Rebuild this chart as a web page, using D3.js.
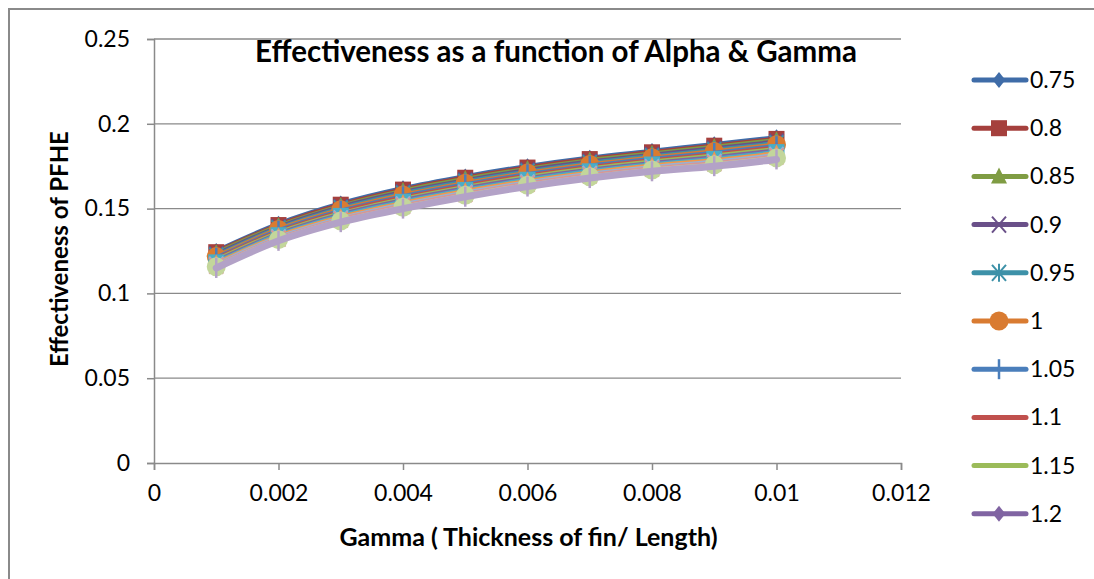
<!DOCTYPE html>
<html>
<head>
<meta charset="utf-8">
<script src="https://cdn.jsdelivr.net/npm/d3@7"></script>
<style>
  body { margin: 0; background: #fff; }
  text { font-family: Lato, "Open Sans", sans-serif; }
</style>
</head>
<body>
<div id="vis"></div>
<script>
const W = 1094, H = 579;

// data
const gammas = [0.001, 0.002, 0.003, 0.004, 0.005, 0.006, 0.007, 0.008, 0.009, 0.01];
const alphas = ["0.75", "0.8", "0.85", "0.9", "0.95", "1", "1.05", "1.1", "1.15", "1.2", "1.25", "1.3", "1.35", "1.4", "1.45", "1.5"];
const eff = [
  [0.1250, 0.1410, 0.1530, 0.1620, 0.1690, 0.1750, 0.1800, 0.1840, 0.1880, 0.1920],
  [0.1243, 0.1403, 0.1523, 0.1612, 0.1682, 0.1742, 0.1792, 0.1832, 0.1871, 0.1911],
  [0.1237, 0.1397, 0.1515, 0.1604, 0.1674, 0.1734, 0.1784, 0.1824, 0.1863, 0.1903],
  [0.1230, 0.1390, 0.1508, 0.1596, 0.1666, 0.1726, 0.1776, 0.1816, 0.1854, 0.1894],
  [0.1223, 0.1383, 0.1501, 0.1588, 0.1658, 0.1718, 0.1768, 0.1808, 0.1845, 0.1885],
  [0.1217, 0.1377, 0.1493, 0.1580, 0.1650, 0.1710, 0.1760, 0.1800, 0.1837, 0.1877],
  [0.1210, 0.1370, 0.1486, 0.1572, 0.1642, 0.1702, 0.1752, 0.1792, 0.1828, 0.1868],
  [0.1203, 0.1363, 0.1479, 0.1564, 0.1634, 0.1694, 0.1744, 0.1784, 0.1819, 0.1859],
  [0.1197, 0.1357, 0.1471, 0.1556, 0.1626, 0.1686, 0.1736, 0.1776, 0.1811, 0.1851],
  [0.1190, 0.1350, 0.1464, 0.1548, 0.1618, 0.1678, 0.1728, 0.1768, 0.1802, 0.1842],
  [0.1183, 0.1343, 0.1457, 0.1540, 0.1610, 0.1670, 0.1720, 0.1760, 0.1793, 0.1833],
  [0.1177, 0.1337, 0.1449, 0.1532, 0.1602, 0.1662, 0.1712, 0.1752, 0.1785, 0.1825],
  [0.1170, 0.1330, 0.1442, 0.1524, 0.1594, 0.1654, 0.1704, 0.1744, 0.1776, 0.1816],
  [0.1163, 0.1323, 0.1435, 0.1516, 0.1586, 0.1646, 0.1696, 0.1736, 0.1767, 0.1807],
  [0.1157, 0.1317, 0.1427, 0.1508, 0.1578, 0.1638, 0.1688, 0.1728, 0.1759, 0.1799],
  [0.1150, 0.1310, 0.1420, 0.1500, 0.1570, 0.1630, 0.1680, 0.1720, 0.1750, 0.1790]
];
const xTicks = [0, 0.002, 0.004, 0.006, 0.008, 0.01, 0.012];
const yTicks = [0, 0.05, 0.1, 0.15, 0.2, 0.25];
const legendShown = 10;

const colors = [
  "#3f6ca8", "#a5403d", "#7f9c43", "#6a5089", "#3d91a8", "#d97b31",
  "#4a7ebb", "#c0504d", "#9bbb59", "#8064a2", "#4bacc6", "#f79646",
  "#95b3d7", "#d99694", "#c3d69b", "#b3a2c7"
];
const markers = ["diamond", "square", "triangle", "x", "star", "circle", "plus", "none", "none"];

const M = { left: 154, right: 901, top: 39, bottom: 463 };

const svg = d3.select("#vis").append("svg")
  .attr("width", W).attr("height", H);

svg.append("rect")
  .attr("x", 9).attr("y", 9).attr("width", W + 20).attr("height", H + 20)
  .attr("fill", "#fff").attr("stroke", "#8a8a8a").attr("stroke-width", 2);

const x = d3.scaleLinear().domain([0, 0.012]).range([M.left, M.right]);
const y = d3.scaleLinear().domain([0, 0.25]).range([M.bottom, M.top]);

// gridlines
svg.append("g").selectAll("line")
  .data(yTicks.filter(d => d > 0))
  .join("line")
  .attr("x1", M.left).attr("x2", M.right)
  .attr("y1", d => y(d)).attr("y2", d => y(d))
  .attr("stroke", "#8a8a8a").attr("stroke-width", 1.3);

// axes
const yAxis = svg.append("g")
  .attr("transform", `translate(${M.left},0)`)
  .call(d3.axisLeft(y).tickValues(yTicks).tickSize(7).tickPadding(17)
    .tickFormat(d => String(d)));
const xAxis = svg.append("g")
  .attr("transform", `translate(0,${M.bottom})`)
  .call(d3.axisBottom(x).tickValues(xTicks).tickSize(7).tickPadding(15)
    .tickFormat(d => String(d)));
[xAxis, yAxis].forEach(a => {
  a.select(".domain").attr("stroke", "#8a8a8a").attr("stroke-width", 1.5);
  a.selectAll(".tick line").attr("stroke", "#8a8a8a").attr("stroke-width", 1.5);
  a.selectAll(".tick text").attr("font-size", 23).attr("fill", "#000")
    .style("font-family", "Lato, sans-serif");
});

// marker drawing
function drawMarker(g, type, color, cx, cy) {
  const s = 8;
  if (type === "diamond") {
    g.append("path")
      .attr("d", `M${cx},${cy - s}L${cx + s * 0.8},${cy}L${cx},${cy + s}L${cx - s * 0.8},${cy}Z`)
      .attr("fill", color);
  } else if (type === "square") {
    g.append("rect").attr("x", cx - 8).attr("y", cy - 8).attr("width", 16).attr("height", 16)
      .attr("fill", color);
  } else if (type === "triangle") {
    g.append("path")
      .attr("d", `M${cx},${cy - 9}L${cx + 8},${cy + 7}L${cx - 8},${cy + 7}Z`)
      .attr("fill", color);
  } else if (type === "x") {
    g.append("path")
      .attr("d", `M${cx - 7},${cy - 8}L${cx + 7},${cy + 8}M${cx + 7},${cy - 8}L${cx - 7},${cy + 8}`)
      .attr("stroke", color).attr("stroke-width", 2).attr("fill", "none");
  } else if (type === "star") {
    g.append("path")
      .attr("d", `M${cx - 7},${cy - 8}L${cx + 7},${cy + 8}M${cx + 7},${cy - 8}L${cx - 7},${cy + 8}M${cx},${cy - 9}L${cx},${cy + 9}`)
      .attr("stroke", color).attr("stroke-width", 2).attr("fill", "none");
  } else if (type === "circle") {
    g.append("circle").attr("cx", cx).attr("cy", cy).attr("r", 9.5).attr("fill", color);
  } else if (type === "plus") {
    g.append("path")
      .attr("d", `M${cx},${cy - 10}L${cx},${cy + 10}`)
      .attr("stroke", color).attr("stroke-width", 2.5).attr("fill", "none");
  }
}

// series
const line = d3.line().x((d, i) => x(gammas[i])).y(d => y(d)).curve(d3.curveMonotoneX);
const series = svg.append("g");
alphas.forEach((a, k) => {
  const g = series.append("g").attr("class", "series");
  g.append("path")
    .attr("d", line(eff[k]))
    .attr("fill", "none")
    .attr("stroke", colors[k])
    .attr("stroke-width", k === alphas.length - 1 ? 7 : 4.5)
    .attr("stroke-linecap", "round");
  const mk = markers[k % markers.length];
  eff[k].forEach((v, i) => drawMarker(g, mk, colors[k], x(gammas[i]), y(v)));
});

// title
svg.append("text")
  .attr("x", 556).attr("y", 62)
  .attr("text-anchor", "middle")
  .attr("font-size", 29.5).attr("font-weight", "bold")
  .text("Effectiveness as a function of Alpha & Gamma");

// axis titles
svg.append("text")
  .attr("x", (M.left + M.right) / 2 + 1).attr("y", 546)
  .attr("text-anchor", "middle")
  .attr("font-size", 25).attr("font-weight", "bold")
  .text("Gamma ( Thickness of fin/ Length)");
svg.append("text")
  .attr("transform", "translate(68,249) rotate(-90)")
  .attr("text-anchor", "middle")
  .attr("font-size", 24).attr("font-weight", "bold")
  .text("Effectiveness of PFHE");

// legend
const legend = svg.append("g");
alphas.slice(0, legendShown).forEach((a, k) => {
  const cy = 80 + k * 48.2;
  const g = legend.append("g");
  g.append("line")
    .attr("x1", 974).attr("x2", 1026).attr("y1", cy).attr("y2", cy)
    .attr("stroke", colors[k]).attr("stroke-width", 5).attr("stroke-linecap", "round");
  drawMarker(g, markers[k % markers.length], colors[k], 999, cy);
  g.append("text")
    .attr("x", 1030).attr("y", cy + 8)
    .attr("font-size", 23)
    .text(a);
});
</script>
</body>
</html>
